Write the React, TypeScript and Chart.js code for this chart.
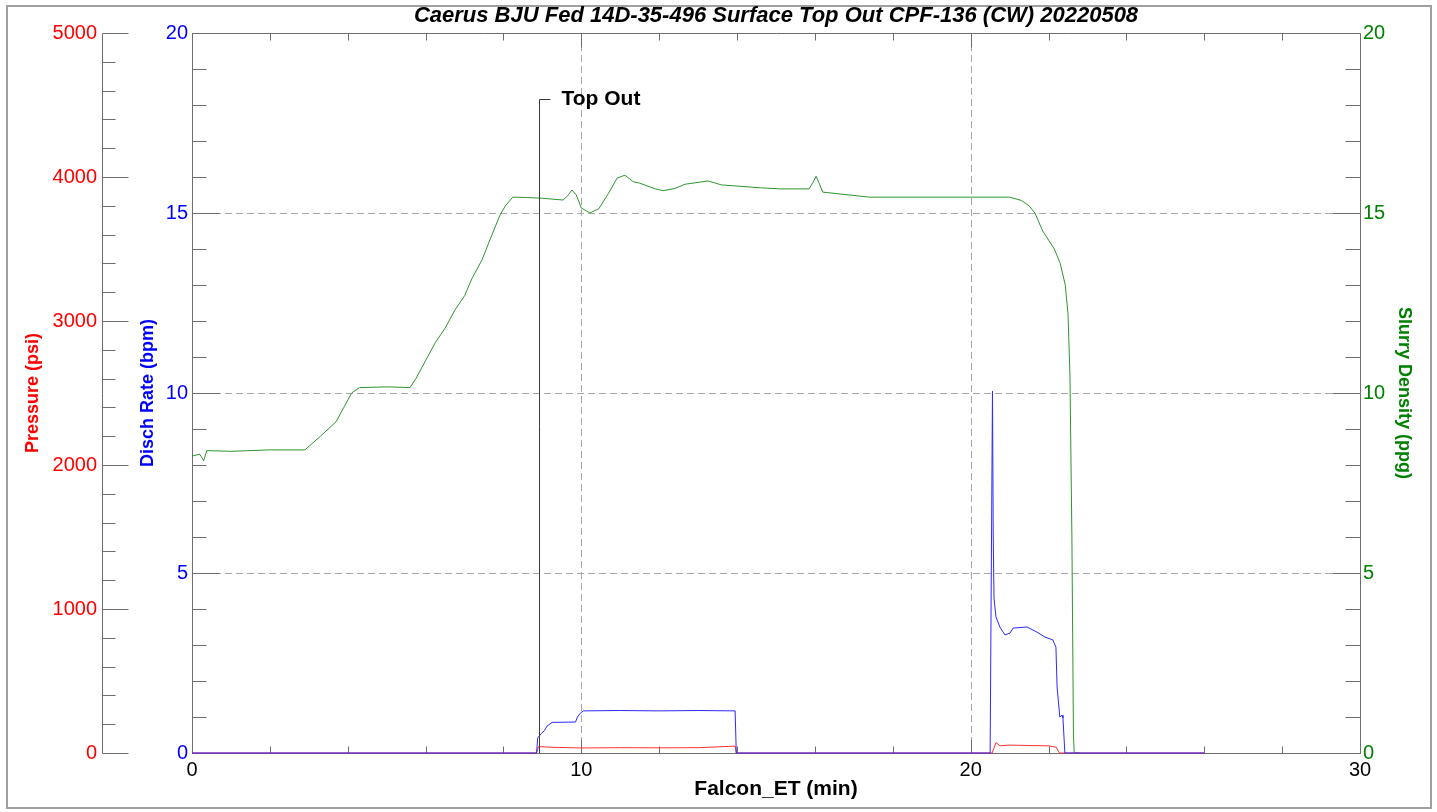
import React, { useEffect, useRef } from 'react';
import { Chart, registerables } from 'chart.js';

Chart.register(...registerables);

const FONT = '"Liberation Sans", Arial, sans-serif';

const TITLE = 'Caerus BJU Fed 14D-35-496 Surface Top Out CPF-136 (CW) 20220508';
const X_TITLE = 'Falcon_ET (min)';
const P_TITLE = 'Pressure (psi)';
const R_TITLE = 'Disch Rate (bpm)';
const D_TITLE = 'Slurry Density (ppg)';
const ANNOTATION_TEXT = 'Top Out';
const ANNOTATION_T = 8.92;
const ANNOTATION_LEVEL = 18.17;

const X_TICKS = [0, 10, 20, 30];
const P_TICKS = [0, 1000, 2000, 3000, 4000, 5000];
const R_TICKS = [0, 5, 10, 15, 20];
const D_TICKS = [0, 5, 10, 15, 20];
const X_GRID = [10, 20];
const R_GRID = [5, 10, 15];

const DENSITY_T = [
  0, 0.2, 0.3, 0.38, 1.0, 2.0, 2.9, 3.3, 3.7, 3.9, 4.1, 4.3, 5.0, 5.6, 5.75, 6.0, 6.25, 6.5, 6.75, 7.0,
  7.2, 7.45, 7.65, 7.91, 8.05, 8.24, 8.6, 9.0, 9.53, 9.65, 9.76, 9.87, 10.0, 10.22, 10.45, 10.7, 10.92,
  11.12, 11.33, 11.5, 11.9, 12.1, 12.4, 12.67, 13.26, 13.6, 14.6, 15.1, 15.85, 15.95, 16.03, 16.1, 16.2,
  17.4, 21.0, 21.3, 21.5, 21.65, 21.85, 22.0, 22.15, 22.3, 22.43, 22.5, 22.55, 22.6, 22.64, 22.66, 22.8,
];
const DENSITY_V = [
  8.25, 8.3, 8.12, 8.4, 8.38, 8.42, 8.42, 8.8, 9.2, 9.6, 10.0, 10.15, 10.17, 10.15, 10.4, 10.9, 11.4, 11.8,
  12.3, 12.7, 13.2, 13.7, 14.25, 14.94, 15.2, 15.44, 15.43, 15.41, 15.36, 15.48, 15.64, 15.5, 15.14, 15.0,
  15.12, 15.55, 15.97, 16.05, 15.87, 15.83, 15.67, 15.62, 15.68, 15.8, 15.89, 15.78, 15.7, 15.67, 15.67,
  15.85, 16.02, 15.85, 15.58, 15.44, 15.44, 15.35, 15.2, 15.0, 14.5, 14.25, 14.0, 13.6, 13.0, 12.2, 10.5,
  6.0, 0.5, 0, 0,
];

const RATE_T = [
  0, 8.85, 8.88, 8.98, 9.05, 9.12, 9.25, 9.85, 9.9, 9.97, 10.05, 11.0, 12.0, 13.0, 13.95, 13.98, 20.5,
  20.56, 20.58, 20.6, 20.65, 20.75, 20.88, 21.01, 21.09, 21.45, 21.7, 21.91, 22.11, 22.19, 22.22, 22.29,
  22.35, 22.37, 22.42, 26,
];
const RATE_V = [
  0, 0, 0.42, 0.55, 0.62, 0.75, 0.85, 0.86, 1.0, 1.1, 1.17, 1.18, 1.17, 1.18, 1.17, 0, 0, 10.05, 6.0,
  4.3, 3.78, 3.5, 3.28, 3.33, 3.47, 3.5, 3.36, 3.22, 3.14, 2.94, 1.83, 1.0, 1.05, 0.97, 0, 0,
];

const PRESSURE_T = [
  0, 8.85, 8.9, 9.2, 10.0, 11.0, 12.0, 13.0, 13.8, 13.95, 13.98, 20.55, 20.65, 20.75, 21.0, 21.5, 22.0,
  22.2, 22.28, 26,
];
const PRESSURE_V = [0, 0, 45, 40, 35, 37, 36, 37, 46, 48, 0, 0, 72, 50, 55, 52, 50, 40, 0, 0];

const RED = '#ff0000';
const BLUE = '#0000ff';
const GREEN = '#008000';
const RED_LINE = '#ff3030';
const BLUE_LINE = '#2a2aff';
const GREEN_LINE = '#2e962e';

const pts = (t: number[], v: number[]) => t.map((x, i) => ({ x, y: v[i] }));

const decor = {
  id: 'decor',
  beforeDraw(chart: any) {
    const { ctx, width, height } = chart;
    ctx.save();
    ctx.fillStyle = '#ffffff';
    ctx.fillRect(0, 0, width, height);
    ctx.strokeStyle = '#a0a0a0';
    ctx.lineWidth = 2;
    ctx.strokeRect(7, 6, width - 13, height - 10);
    ctx.restore();
  },
  beforeDatasetsDraw(chart: any) {
    const { ctx, chartArea, scales } = chart;
    const { left, right, top, bottom } = chartArea;
    const x = scales.x, yR = scales.yR, yP = scales.yP, yD = scales.yD;
    const h = (v: number) => Math.round(v) + 0.5;
    ctx.save();
    ctx.lineWidth = 1;
    ctx.strokeStyle = '#a8a8a8';
    ctx.setLineDash([7, 4]);
    ctx.beginPath();
    X_GRID.forEach((v) => {
      const px = h(x.getPixelForValue(v));
      ctx.moveTo(px, top);
      ctx.lineTo(px, bottom);
    });
    R_GRID.forEach((v) => {
      const py = h(yR.getPixelForValue(v));
      ctx.moveTo(left, py);
      ctx.lineTo(right, py);
    });
    ctx.stroke();
    ctx.setLineDash([]);

    ctx.strokeStyle = '#6e6e6e';
    ctx.beginPath();
    const L = h(left), R = h(right), T = h(top), B = h(bottom);
    ctx.moveTo(L, T); ctx.lineTo(R, T); ctx.lineTo(R, B); ctx.lineTo(L, B); ctx.closePath();
    for (let v = 0; v <= 30; v += 2) {
      const px = h(x.getPixelForValue(v));
      const len = v % 10 === 0 ? 14 : 7;
      ctx.moveTo(px, B); ctx.lineTo(px, B - len);
      ctx.moveTo(px, T); ctx.lineTo(px, T + len);
    }
    for (let v = 0; v <= 20; v += 1) {
      const py = h(yR.getPixelForValue(v));
      const len = v % 5 === 0 ? 27 : 14;
      ctx.moveTo(L, py); ctx.lineTo(L + len, py);
    }
    for (let v = 0; v <= 20; v += 1) {
      const py = h(yD.getPixelForValue(v));
      const len = v % 5 === 0 ? 28 : 15;
      ctx.moveTo(R, py); ctx.lineTo(R - len, py);
    }
    const PX = h(yP.right + 1);
    ctx.moveTo(PX, h(yP.getPixelForValue(5000)));
    ctx.lineTo(PX, h(yP.getPixelForValue(0)));
    for (let v = 0; v <= 5000; v += 200) {
      const py = h(yP.getPixelForValue(v));
      const len = v % 1000 === 0 ? 26 : 13;
      ctx.moveTo(PX, py); ctx.lineTo(PX + len, py);
    }
    ctx.stroke();
    ctx.restore();
  },
  afterDatasetsDraw(chart: any) {
    const { ctx, chartArea, scales } = chart;
    const h = (v: number) => Math.round(v) + 0.5;
    const px = h(scales.x.getPixelForValue(ANNOTATION_T));
    const py = h(scales.yR.getPixelForValue(ANNOTATION_LEVEL));
    ctx.save();
    ctx.strokeStyle = '#3a3a3a';
    ctx.lineWidth = 1;
    ctx.beginPath();
    ctx.moveTo(px, chartArea.bottom);
    ctx.lineTo(px, py);
    ctx.lineTo(px + 11, py);
    ctx.stroke();
    ctx.fillStyle = '#000000';
    ctx.font = 'bold 21px ' + FONT;
    ctx.textBaseline = 'middle';
    ctx.textAlign = 'left';
    ctx.fillText(ANNOTATION_TEXT, px + 22, py);
    ctx.restore();
  },
};

const tickFont = { family: FONT, size: 20 };
const vTitleFont = { family: FONT, size: 18, weight: 'bold' as const };

export default function App() {
  const ref = useRef<HTMLCanvasElement>(null);
  useEffect(() => {
    document.body.style.margin = '0';
    const chart = new Chart(ref.current as HTMLCanvasElement, {
      type: 'line',
      data: {
        datasets: [
          { label: 'Rate', data: pts(RATE_T, RATE_V), yAxisID: 'yR', borderColor: BLUE_LINE, borderWidth: 1, pointRadius: 0, tension: 0, clip: false as any },
          { label: 'Pressure', data: pts(PRESSURE_T, PRESSURE_V), yAxisID: 'yP', borderColor: RED_LINE, borderWidth: 1, pointRadius: 0, tension: 0, clip: false as any },
          { label: 'Density', data: pts(DENSITY_T, DENSITY_V), yAxisID: 'yD', borderColor: GREEN_LINE, borderWidth: 1, pointRadius: 0, tension: 0, clip: false as any },
        ],
      },
      options: {
        animation: false,
        responsive: false,
        devicePixelRatio: 1,
        layout: { padding: { left: 10, right: 10, top: 0, bottom: 0 } },
        plugins: {
          legend: { display: false },
          tooltip: { enabled: false },
          title: {
            display: true,
            text: TITLE,
            fullSize: false,
            color: '#000',
            font: { family: FONT, size: 22, weight: 'bold', style: 'italic' },
            padding: { top: 2.5, bottom: 4.1 },
          },
        },
        scales: {
          x: {
            type: 'linear',
            position: 'bottom',
            min: 0,
            max: 30,
            ticks: { stepSize: 10, color: '#000', font: tickFont, padding: 5, callback: (v: any) => (X_TICKS.includes(v) ? String(v) : '') },
            grid: { display: false, drawTicks: false },
            border: { display: false },
            title: { display: true, text: X_TITLE, color: '#000', font: { family: FONT, size: 21, weight: 'bold' }, padding: { top: 0, bottom: 10 } },
            afterFit: (s: any) => { s.height = 59; },
          },
          yP: {
            type: 'linear',
            position: 'left',
            weight: 2,
            min: 0,
            max: 5000,
            ticks: { stepSize: 1000, color: RED, font: tickFont, padding: 4, callback: (v: any) => (P_TICKS.includes(v) ? String(v) : '') },
            grid: { display: false, drawTicks: false },
            border: { display: false },
            title: { display: true, text: P_TITLE, color: RED, font: vTitleFont, padding: { top: 12, bottom: 0 } },
            afterFit: (s: any) => { s.width = 91; },
          },
          yR: {
            type: 'linear',
            position: 'left',
            weight: 1,
            min: 0,
            max: 20,
            ticks: { stepSize: 5, color: BLUE, font: tickFont, padding: 4, callback: (v: any) => (R_TICKS.includes(v) ? String(v) : '') },
            grid: { display: false, drawTicks: false },
            border: { display: false },
            title: { display: true, text: R_TITLE, color: BLUE, font: vTitleFont, padding: { top: 36, bottom: 0 } },
            afterFit: (s: any) => { s.width = 91; },
          },
          yD: {
            type: 'linear',
            position: 'right',
            min: 0,
            max: 20,
            ticks: { stepSize: 5, color: GREEN, font: tickFont, padding: 3, callback: (v: any) => (D_TICKS.includes(v) ? String(v) : '') },
            grid: { display: false, drawTicks: false },
            border: { display: false },
            title: { display: true, text: D_TITLE, color: GREEN, font: vTitleFont, padding: { top: 12, bottom: 0 } },
            afterFit: (s: any) => { s.width = 67; },
          },
        },
      },
      plugins: [decor],
    });
    return () => chart.destroy();
  }, []);
  return (
    <div style={{ position: 'absolute', left: 0, top: 0, width: 1437, height: 812 }}>
      <canvas ref={ref} width={1437} height={812} style={{ display: 'block', width: 1437, height: 812 }} />
    </div>
  );
}
